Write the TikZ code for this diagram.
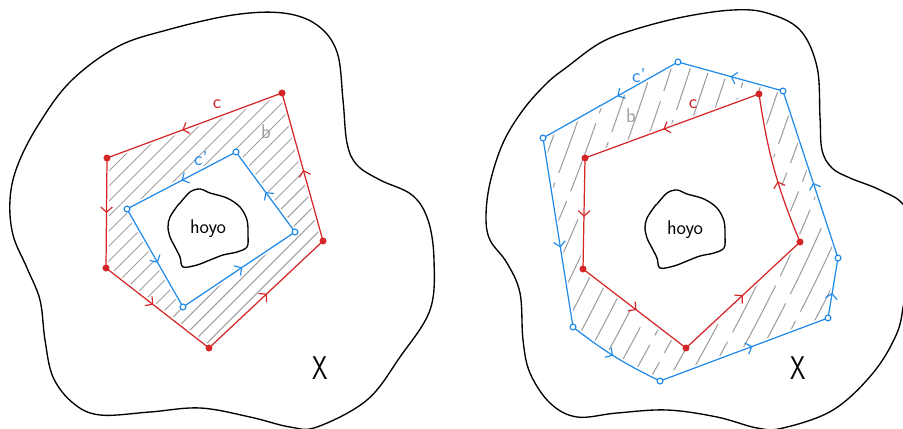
\documentclass[tikz,border=0pt]{standalone}
\usetikzlibrary{arrows.meta,decorations.markings}
\definecolor{cred}{RGB}{212,38,38}
\definecolor{cblue}{RGB}{34,138,232}
\definecolor{chatch}{RGB}{158,158,158}
\tikzset{
  blob/.style={draw=black, line width=1.15pt},
  redline/.style={draw=cred, line width=1.05pt},
  blueline/.style={draw=cblue, line width=1.05pt},
  hatchline/.style={draw=chatch, line width=0.9pt},
  midarrow/.style={postaction={decorate, decoration={markings, mark=at position #1 with {\arrow{Straight Barb[length=4.5pt,width=10pt,line width=1pt]}}}}},
  reddot/.style={fill=cred, draw=cred, circle, inner sep=0pt, minimum size=5.5pt},
  bluedot/.style={fill=white, draw=cblue, line width=1pt, circle, inner sep=0pt, minimum size=5pt},
  lbl/.style={font=\sffamily\fontsize{17}{17}\selectfont, inner sep=0pt},
  bigx/.style={font=\sffamily\fontsize{28}{28}\selectfont, xscale=0.75, inner sep=0pt},
}
\begin{document}
\begin{tikzpicture}[x=0.03cm,y=-0.03cm]
\useasboundingbox (0,0) rectangle (903,429);
\clip (0,0) rectangle (903,429);

% ================= LEFT PANEL =================
\draw[blob] plot[smooth cycle, tension=0.6] coordinates {
 (70,82) (117,47) (167,30) (233,15) (283,13) (317,25) (337,52) (343,100)
 (347,143) (357,165) (380,180) (412,195) (428,220) (434,260) (430,310)
 (400,357) (367,400) (317,427) (290,427) (250,417) (200,408) (150,412)
 (100,415) (73,403) (53,377) (45,340) (40,300) (27,268) (13,235) (10,200)
 (17,167) (37,127)};

\coordinate (lr1) at (282,93);
\coordinate (lr2) at (107,158);
\coordinate (lr3) at (106,268);
\coordinate (lr4) at (209,348);
\coordinate (lr5) at (323,241);
\coordinate (lb1) at (236,152);
\coordinate (lb2) at (127,209);
\coordinate (lb3) at (183,307);
\coordinate (lb4) at (295,232);

\begin{scope}
  \clip (lr1) -- (lr2) -- (lr3) -- (lr4) -- (lr5) -- cycle;
  \foreach \k in {0,...,33} \draw[hatchline] ({-190+15*\k},380) -- ++(300,-300);
  \draw[white, line width=4pt] (lr1) -- (lr2) -- (lr3) -- (lr4) -- (lr5) -- cycle;
  \filldraw[white, line width=4pt] (lb1) -- (lb2) -- (lb3) -- (lb4) -- cycle;
\end{scope}

\draw[blob, fill=white] plot[smooth cycle, tension=0.55] coordinates {
 (180,203) (190,192) (200,189) (210,193) (227,198) (240,207) (247,220)
 (248,235) (247,247) (237,252) (223,255) (210,260) (197,265) (183,267)
 (180,257) (175,247) (170,237) (168,227) (170,217) (178,205)};
\node[lbl] (lhoyo) at (208,229) {hoyo};

\draw[redline, midarrow=0.57] (lr1) -- (lr2);
\draw[redline, midarrow=0.5] (lr2) -- (lr3);
\draw[redline, midarrow=0.46] (lr3) -- (lr4);
\draw[redline, midarrow=0.51] (lr4) -- (lr5);
\draw[redline, midarrow=0.48] (lr5) -- (lr1);

\draw[blueline, midarrow=0.5] (lb1) -- (lb2);
\draw[blueline, midarrow=0.55] (lb2) -- (lb3);
\draw[blueline, midarrow=0.53] (lb3) -- (lb4);
\draw[blueline, midarrow=0.5] (lb4) -- (lb1);

\foreach \p in {lr1,lr2,lr3,lr4,lr5} \node[reddot] (\p d) at (\p) {};
\foreach \p in {lb1,lb2,lb3,lb4} \node[bluedot] (\p d) at (\p) {};

\node[lbl, text=cred] (lc) at (217,104) {c};
\node[lbl, text=cblue] (lcp) at (201,159) {c'};
\node[lbl, text=chatch] (lb) at (266,132) {b};
\node[bigx] (lx) at (320,368) {X};

% ================= RIGHT PANEL =================
\draw[blob] plot[smooth cycle, tension=0.6] coordinates {
 (547,83) (567,67) (600,43) (633,30) (683,17) (733,10) (767,13) (800,30)
 (817,67) (820,117) (822,150) (832,168) (850,178) (880,190) (905,207)
 (918,250) (905,298) (897,333) (873,373) (833,410) (783,428) (757,428)
 (717,417) (667,410) (617,413) (577,417) (550,403) (530,373) (523,340)
 (520,293) (507,263) (490,240) (486,217) (490,183) (503,143) (523,110)};

\coordinate (rr1) at (759,94);
\coordinate (rr2) at (585,158);
\coordinate (rr3) at (583,269);
\coordinate (rr4) at (686,348);
\coordinate (rr5) at (800,242);
\coordinate (rb1) at (678,62);
\coordinate (rb2) at (543,138);
\coordinate (rb3) at (573,327);
\coordinate (rb4) at (660,381);
\coordinate (rb5) at (828,318);
\coordinate (rb6) at (838,258);
\coordinate (rb7) at (783,91);

\begin{scope}
  \clip (rb1) -- (rb2) -- (rb3) to[bend right=6] (rb4) -- (rb5) -- (rb6) -- (rb7) -- cycle;
  \foreach \k in {0,...,24} \draw[hatchline, dash pattern=on 62pt off 9pt, dash phase={\k*17pt}] ({372+19*\k},400) to[bend right=6] ++(150,-340);
  \draw[white, line width=4pt] (rb1) -- (rb2) -- (rb3) to[bend right=6] (rb4) -- (rb5) -- (rb6) -- (rb7) -- cycle;
  \filldraw[white, line width=4pt] (rr1) -- (rr2) -- (rr3) -- (rr4) -- (rr5) to[bend left=7] (rr1) -- cycle;
\end{scope}

\begin{scope}[shift={(477,1)}]
\draw[blob, fill=white] plot[smooth cycle, tension=0.55] coordinates {
 (180,203) (190,192) (200,189) (210,193) (227,198) (240,207) (247,220)
 (248,235) (247,247) (237,252) (223,255) (210,260) (197,265) (183,267)
 (180,257) (175,247) (170,237) (168,227) (170,217) (178,205)};
\end{scope}
\node[lbl] (rhoyo) at (685,230) {hoyo};

\draw[redline, midarrow=0.55] (rr1) -- (rr2);
\draw[redline, midarrow=0.53] (rr2) -- (rr3);
\draw[redline, midarrow=0.52] (rr3) -- (rr4);
\draw[redline, midarrow=0.5] (rr4) -- (rr5);
\draw[redline, midarrow=0.42] (rr5) to[bend left=7] (rr1);

\draw[blueline, midarrow=0.45] (rb1) -- (rb2);
\draw[blueline, midarrow=0.58] (rb2) -- (rb3);
\draw[blueline, midarrow=0.48] (rb3) to[bend right=6] (rb4);
\draw[blueline, midarrow=0.55] (rb4) -- (rb5);
\draw[blueline, midarrow=0.42] (rb5) -- (rb6);
\draw[blueline, midarrow=0.45] (rb6) -- (rb7);
\draw[blueline, midarrow=0.5] (rb7) -- (rb1);

\foreach \p in {rr1,rr2,rr3,rr4,rr5} \node[reddot] (\p d) at (\p) {};
\foreach \p in {rb1,rb2,rb3,rb4,rb5,rb6,rb7} \node[bluedot] (\p d) at (\p) {};

\node[lbl, text=cred] (rc) at (693,104) {c};
\node[lbl, text=cblue] (rcp) at (639,76) {c'};
\node[lbl, text=chatch] (rb) at (631,116) {b};
\node[bigx] (rx) at (798,368) {X};
\end{tikzpicture}
\end{document}
